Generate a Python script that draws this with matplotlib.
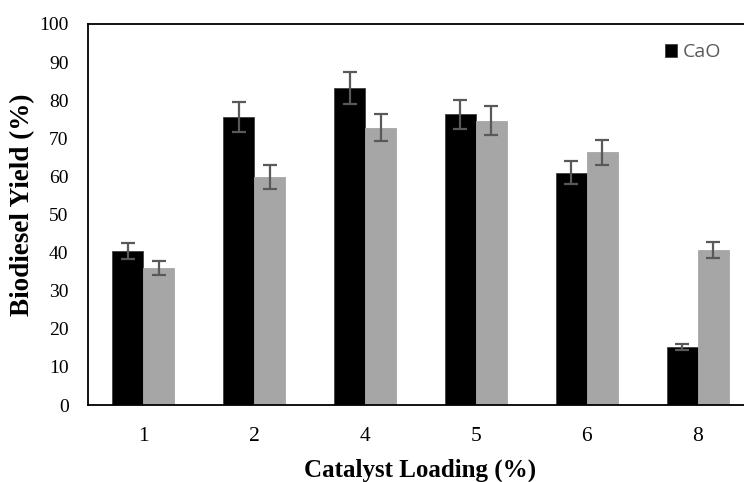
import matplotlib
matplotlib.use("Agg")
import matplotlib.pyplot as plt
import numpy as np

categories = ["1", "2", "4", "5", "6", "8"]
cao = [40.5, 75.6, 83.1, 76.3, 61.0, 15.3]
cao_err = [2.1, 4.0, 4.2, 3.8, 3.0, 0.8]
second = [35.9, 59.8, 72.8, 74.6, 66.3, 40.8]
second_err = [1.8, 3.2, 3.6, 3.8, 3.3, 2.1]

fig = plt.figure(figsize=(7.44, 4.82), dpi=100)
ax = fig.add_axes([88/744, 1 - 405/482, 665/744, 381/482])

x = np.arange(len(categories))
w = 0.28
errkw = dict(ecolor="#595959", elinewidth=1.6, capsize=5, capthick=1.6)
ax.bar(x, cao, width=-w, align="edge", color="black", edgecolor="#404040",
       linewidth=0.6, yerr=cao_err, error_kw=errkw, label="CaO")
ax.bar(x, second, width=w, align="edge", color="#a6a6a6", edgecolor="#a6a6a6",
       linewidth=0.6, yerr=second_err, error_kw=errkw)

ax.set_xlim(-0.5, 5.5)
ax.set_ylim(0, 100)
ax.set_yticks(range(0, 101, 10))
ax.set_xticks(x)
ax.set_xticklabels(categories)
serif = "Liberation Serif"
for lab in ax.get_yticklabels():
    lab.set_fontfamily(serif)
    lab.set_fontsize(14)
for lab in ax.get_xticklabels():
    lab.set_fontfamily(serif)
    lab.set_fontsize(15.5)
ax.tick_params(axis="both", length=0)
ax.tick_params(axis="y", pad=14)
ax.tick_params(axis="x", pad=16)
for s in ["left", "bottom", "top"]:
    ax.spines[s].set_linewidth(1.3)
    ax.spines[s].set_color("black")
ax.spines["right"].set_visible(False)

ax.set_ylabel("Biodiesel Yield (%)", fontfamily=serif, fontweight="bold", fontsize=19.5)
ax.yaxis.set_label_coords(-0.08, 0.525)
ax.set_xlabel("Catalyst Loading (%)", fontfamily=serif, fontweight="bold", fontsize=18, labelpad=9)

leg = ax.legend(loc="upper right", bbox_to_anchor=(0.9785, 0.995),
                frameon=False, prop={"family": "Open Sans", "size": 14},
                handlelength=0.6, handleheight=0.6, handletextpad=0.3)
for t in leg.get_texts():
    t.set_color("#595959")

fig.savefig("out.png", dpi=100)
